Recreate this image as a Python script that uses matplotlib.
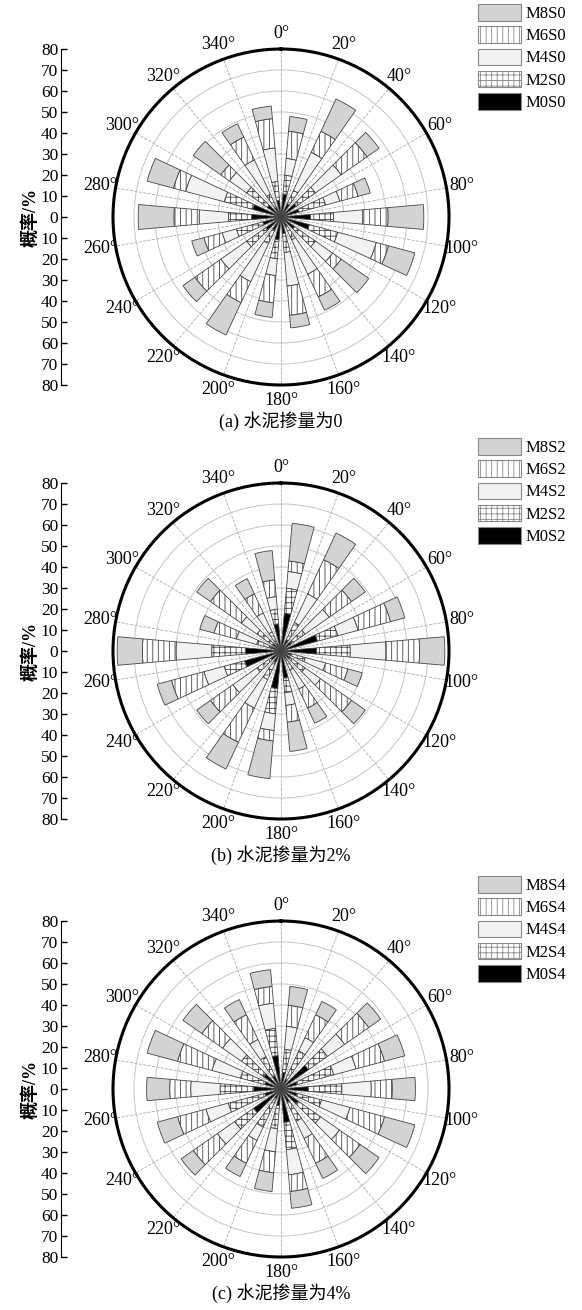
import numpy as np
import matplotlib
matplotlib.use('Agg')
import matplotlib.pyplot as plt
from matplotlib.patches import Patch

plt.rcParams['font.family'] = ['Liberation Serif', 'Noto Sans CJK SC']
plt.rcParams['hatch.linewidth'] = 0.6

# bar directions (degrees), 20 degree bins
angles = [10, 30, 50, 70, 90, 110, 130, 150, 170,
          190, 210, 230, 250, 270, 290, 310, 330, 350]

# (a) cement 0
m0_s0 = [11, 7, 9, 9, 14, 14, 8, 5, 8, 11, 7, 9, 9, 14, 14, 8, 5, 8]
m2_s0 = [9, 7, 11, 13, 11, 14, 12, 7, 9, 9, 7, 11, 13, 11, 14, 12, 7, 9]
m4_s0 = [8, 20, 15, 7, 14, 19, 10, 18, 16, 8, 20, 15, 7, 14, 19, 10, 18, 16]
m6_s0 = [13, 11, 15, 9, 12, 6, 5, 12, 14, 13, 11, 15, 9, 12, 6, 5, 12, 14]
m8_s0 = [7, 17, 7, 6, 17, 13, 16, 7, 6, 7, 17, 7, 6, 17, 13, 16, 7, 6]

# (b) cement 2%
m0_s2 = [18, 6, 6, 18, 17, 5, 5, 4, 13, 18, 6, 6, 18, 17, 5, 5, 4, 13]
m2_s2 = [12, 9, 8, 10, 16, 7, 9, 6, 7, 12, 9, 8, 10, 16, 7, 9, 6, 7]
m4_s2 = [8, 15, 14, 10, 17, 10, 9, 10, 6, 8, 15, 14, 10, 17, 10, 9, 10, 6]
m6_s2 = [5, 18, 13, 16, 16, 11, 18, 10, 8, 5, 18, 13, 16, 16, 11, 18, 10, 8]
m8_s2 = [18, 14, 8, 7, 12, 7, 8, 8, 14, 18, 14, 8, 7, 12, 7, 8, 8, 14]

# (c) cement 4%
m0_s4 = [8, 5, 16, 8, 13, 8, 10, 7, 16, 8, 5, 16, 8, 13, 8, 10, 7, 16]
m2_s4 = [11, 15, 11, 18, 16, 12, 13, 10, 13, 11, 15, 11, 18, 16, 12, 13, 10, 13]
m4_s4 = [11, 7, 10, 11, 14, 14, 11, 9, 12, 11, 7, 10, 11, 14, 14, 11, 9, 12]
m6_s4 = [10, 12, 14, 14, 10, 17, 12, 13, 8, 10, 12, 14, 14, 10, 17, 12, 13, 8]
m8_s4 = [9, 7, 7, 10, 11, 15, 11, 8, 8, 9, 7, 7, 10, 11, 15, 11, 8, 8]

panels = [
    ('S0', '(a) 水泥掺量为0', [m0_s0, m2_s0, m4_s0, m6_s0, m8_s0], 217),
    ('S2', '(b) 水泥掺量为2%', [m0_s2, m2_s2, m4_s2, m6_s2, m8_s2], 651),
    ('S4', '(c) 水泥掺量为4%', [m0_s4, m2_s4, m4_s4, m6_s4, m8_s4], 1089),
]

names = ['M0', 'M2', 'M4', 'M6', 'M8']
faces = ['black', 'white', '#f2f2f2', 'white', '#d3d3d3']
hatches = [None, '+++', None, '|||', None]

W, H = 582, 1310
fig = plt.figure(figsize=(W / 100, H / 100), dpi=100)

cx, R = 281, 168
theta = np.deg2rad(angles)
width = np.deg2rad(10)

for tag, caption, series, cy in panels:
    ax = fig.add_axes([(cx - R) / W, (H - cy - R) / H, 2 * R / W, 2 * R / H],
                      projection='polar')
    ax.set_theta_zero_location('N')
    ax.set_theta_direction(-1)
    ax.set_axisbelow(True)

    bottom = np.zeros(len(angles))
    for vals, fc, h in zip(series, faces, hatches):
        ax.bar(theta, vals, width=width, bottom=bottom, color=fc, hatch=h,
               edgecolor='#444444', linewidth=0.6)
        bottom = bottom + np.array(vals)

    ax.set_ylim(0, 80)
    ax.set_yticks(range(10, 80, 10))
    ax.set_yticklabels([])
    ax.set_xticks(np.deg2rad(np.arange(0, 360, 20)))
    ax.set_xticklabels([f'{d}°' for d in range(0, 360, 20)], fontsize=13)
    ax.set_xticks(np.deg2rad(np.arange(10, 360, 20)), minor=True)
    ax.tick_params(axis='x', which='major', direction='in', length=6,
                   width=1.5, pad=4)
    ax.tick_params(axis='x', which='minor', direction='in', length=3,
                   width=1.2)
    ax.xaxis.grid(True, which='major', linestyle='--', color='#aaaaaa',
                  linewidth=0.6)
    ax.yaxis.grid(True, linestyle='-', color='#c4c4c4', linewidth=0.7)
    ax.spines['polar'].set_linewidth(2.2)

    # left radial scale
    lax = fig.add_axes([61 / W, (H - cy - R) / H, 0.05, 2 * R / H])
    lax.set_ylim(-80, 80)
    lax.set_xticks([])
    for s in ['top', 'right', 'bottom']:
        lax.spines[s].set_visible(False)
    ticks = list(range(-80, 90, 10))
    lax.set_yticks(ticks)
    lax.set_yticklabels([str(abs(t)) for t in ticks], fontsize=12.5)
    lax.tick_params(axis='y', direction='in', length=4, width=1, pad=2)
    lax.patch.set_alpha(0)
    lax.set_ylabel('概率/%', fontsize=13, fontweight='bold', labelpad=1)

    fig.text(cx / W, 1 - (cy + 204) / H, caption, ha='center', va='center',
             fontsize=13)

    handles = [Patch(facecolor=fc, edgecolor='#888888', hatch=h, linewidth=0.8)
               for fc, h in zip(faces, hatches)][::-1]
    labels = [n + tag for n in names][::-1]
    fig.legend(handles, labels, loc='upper left',
               bbox_to_anchor=(478 / W, 1 - (cy - 213) / H), frameon=False,
               borderpad=0, borderaxespad=0, handlelength=2.6,
               handleheight=1.15, labelspacing=0.26, handletextpad=0.25,
               fontsize=12)

fig.savefig('out.png', dpi=100)
